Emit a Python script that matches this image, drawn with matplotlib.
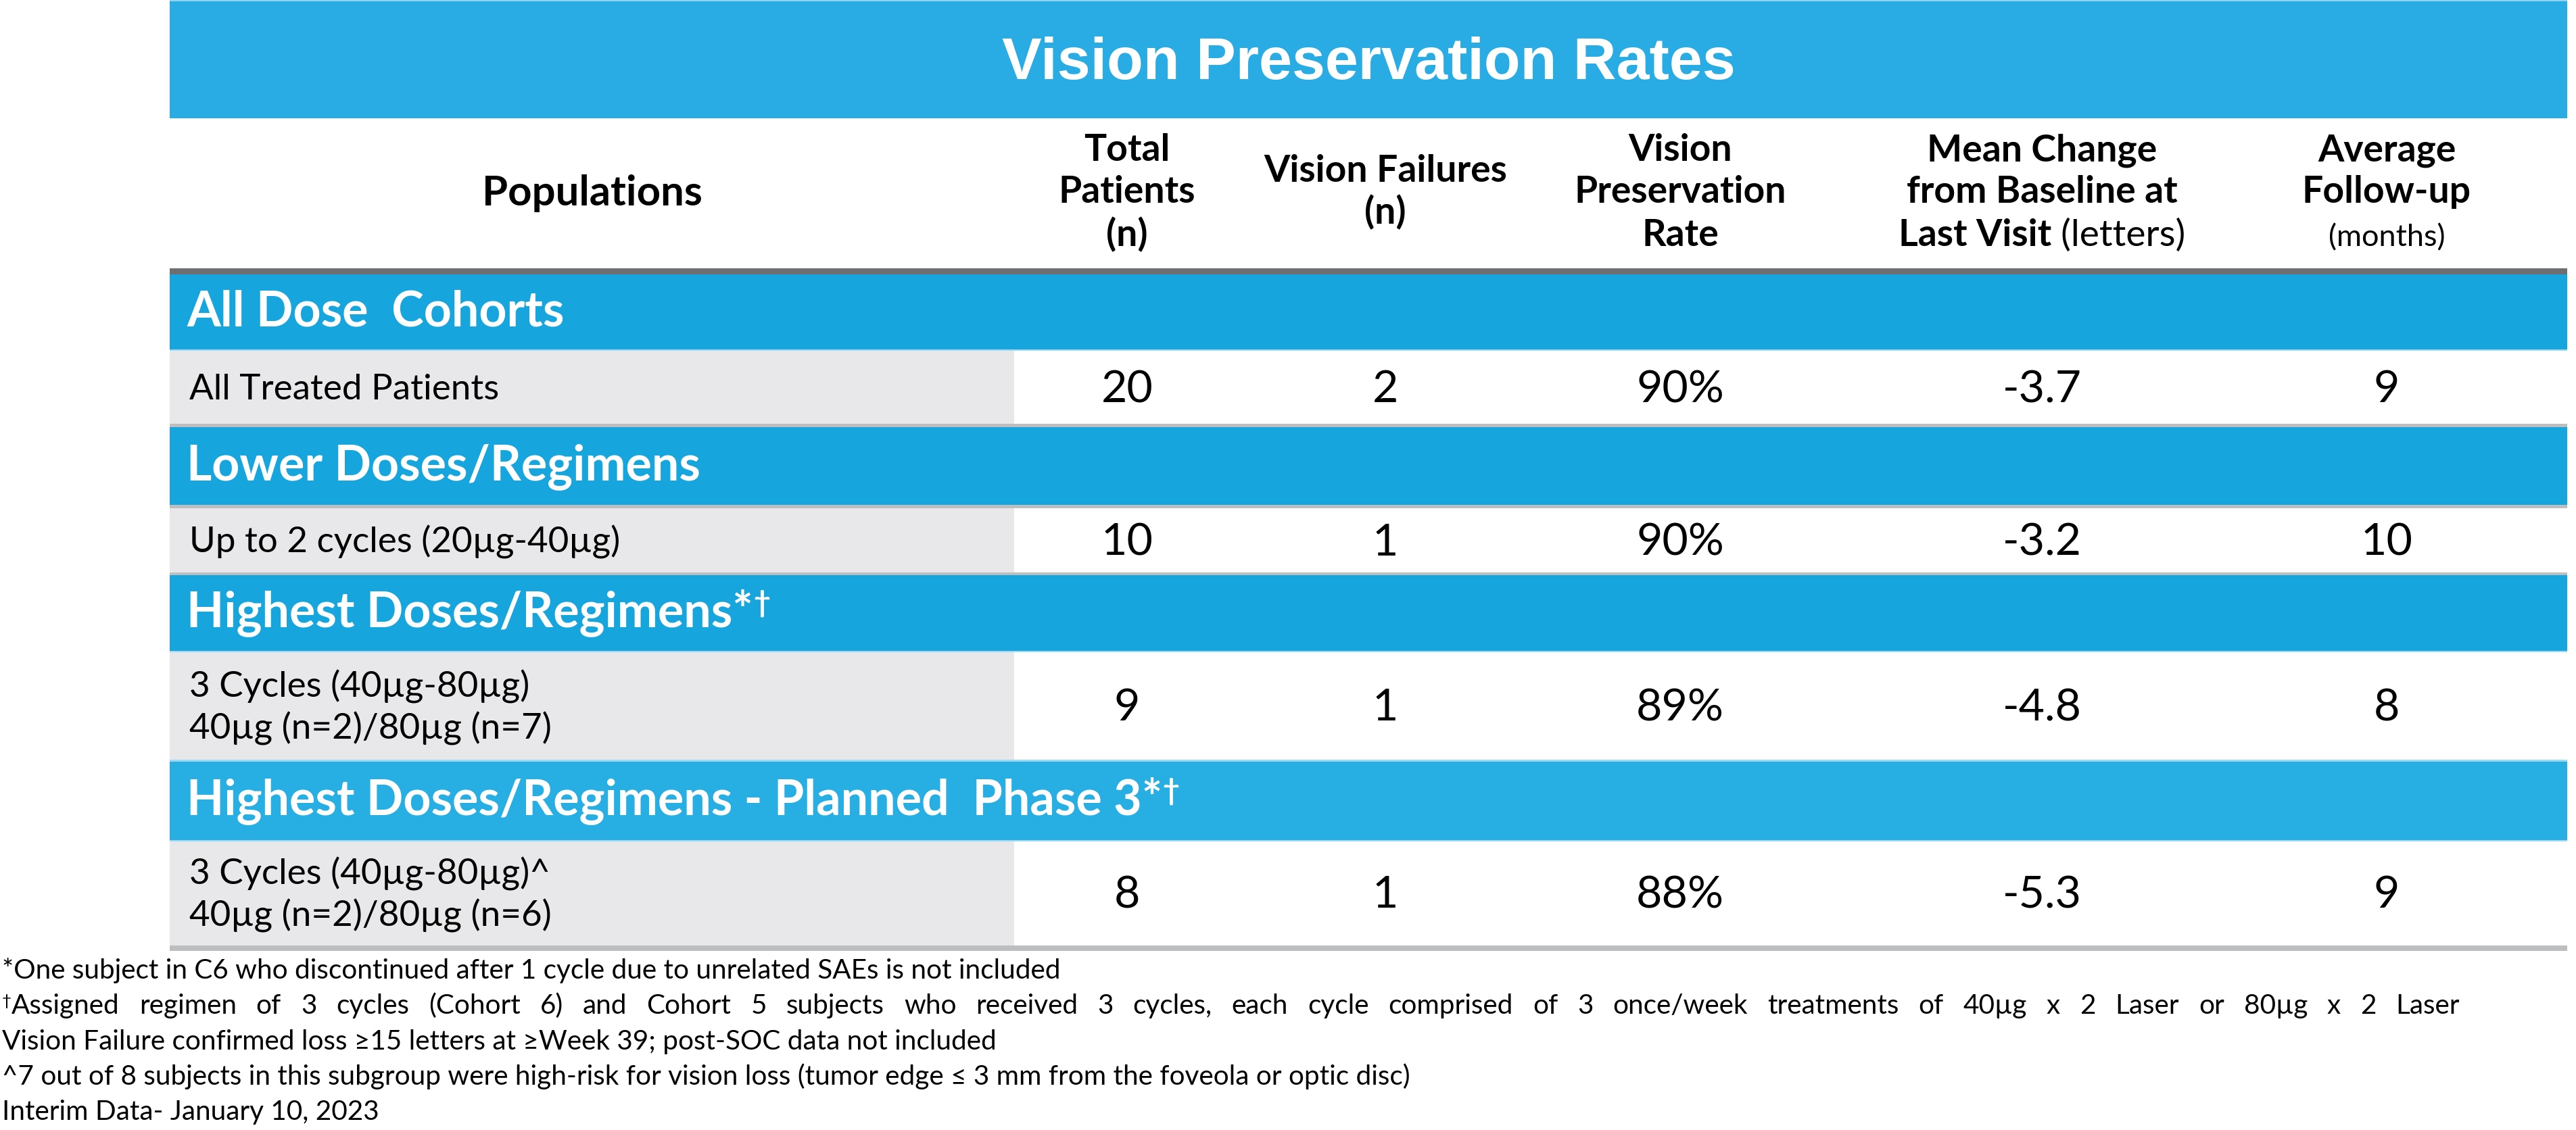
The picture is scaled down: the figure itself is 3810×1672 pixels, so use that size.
import matplotlib.pyplot as plt
from matplotlib.patches import Rectangle

# ---- chart content ----
title = "Vision Preservation Rates"
row_header = "Populations"
# each column header: lines, each line made of (text, style) pieces
header_lines = [
    [[("Total", "bold")], [("Patients", "bold")], [("(n)", "bold")]],
    [[("Vision Failures", "bold")], [("(n)", "bold")]],
    [[("Vision", "bold")], [("Preservation", "bold")], [("Rate", "bold")]],
    [[("Mean Change", "bold")], [("from Baseline at", "bold")],
     [("Last Visit", "bold"), (" (letters)", "normal")]],
    [[("Average", "bold")], [("Follow-up", "bold")], [("(months)", "small")]],
]
sections = ["All Dose  Cohorts", "Lower Doses/Regimens", "Highest Doses/Regimens*",
            "Highest Doses/Regimens - Planned  Phase 3*"]
section_marks = ["", "", "\u2020", "\u2020"]
populations = [
    ["All Treated Patients"],
    ["Up to 2 cycles (20\u00b5g-40\u00b5g)"],
    ["3 Cycles (40\u00b5g-80\u00b5g)", "40\u00b5g (n=2)/80\u00b5g (n=7)"],
    ["3 Cycles (40\u00b5g-80\u00b5g)^", "40\u00b5g (n=2)/80\u00b5g (n=6)"],
]
total_patients = [20, 10, 9, 8]
vision_failures = [2, 1, 1, 1]
preservation_rate = [90, 90, 89, 88]
mean_change = [-3.7, -3.2, -4.8, -5.3]
follow_up = [9, 10, 8, 9]
footnotes = [
    "*One subject in C6 who discontinued after 1 cycle due to unrelated SAEs is not included",
    "Assigned regimen of 3 cycles (Cohort 6) and Cohort 5 subjects who received 3 cycles, "
    "each cycle comprised of 3 once/week treatments of 40\u00b5g x 2 Laser or 80\u00b5g x 2 Laser",
    "Vision Failure confirmed loss \u226515 letters at \u2265Week 39; post-SOC data not included",
    "^7 out of 8 subjects in this subgroup were high-risk for vision loss "
    "(tumor edge \u2264 3 mm from the foveola or optic disc)",
    "Interim Data- January 10, 2023",
]
footnote_marks = ["", "\u2020", "", "", ""]
footnote_justified = [False, True, False, False, False]

# ---- layout (pixels of the 3810x1672 canvas) ----
W, H, DPI = 3810, 1672, 100
PT = 72 / DPI
K = 0.92  # Lato runs a bit wider than the original's Calibri
BODY = ["Lato", "DejaVu Sans"]
TITLE_FONT = ["Liberation Sans", "DejaVu Sans"]

LEFT, RIGHT, SPLIT = 251, 3797, 1500
COL_X = [1667, 2049, 2485, 3020, 3530]
BANDS = [(406, 517), (632, 747), (850, 963), (1126, 1243)]
ROWS = [(519, 627), (752, 847), (963, 1126), (1243, 1399)]
BAND_COLORS = ["#17A5DE", "#17A5DE", "#17A5DE", "#27AEE3"]
TITLE_BLUE = "#29ACE3"
CELL_GRAY = "#E8E8EA"
LINE_GRAY = "#BCBEC0"
NOTE_END = 3638  # right end of the justified footnote

TITLE_SIZE = 88 * PT
HEAD_SIZE = 60 * K * PT
POP_SIZE = 67 * K * PT
SMALL_SIZE = 49 * K * PT
SECTION_SIZE = 78 * K * PT
LABEL_SIZE = 57.5 * K * PT
VALUE_SIZE = 72 * K * PT
NOTE_SIZE = 44 * K * PT

fig = plt.figure(figsize=(W / DPI, H / DPI), dpi=DPI)
ax = fig.add_axes([0, 0, 1, 1])
ax.set_xlim(0, W)
ax.set_ylim(H, 0)
ax.axis("off")
renderer = fig.canvas.get_renderer()


def box(x0, y0, x1, y1, color):
    ax.add_patch(Rectangle((x0, y0), x1 - x0, y1 - y0, facecolor=color, edgecolor="none"))


def run_of_text(x, y, parts, ha="center", color="black"):
    # pieces on one baseline: (text, size, weight, rise); returns right end
    pieces = [ax.text(0, y - rise, s, fontsize=size, fontweight=weight, family=BODY,
                      color=color, ha="left", va="baseline")
              for s, size, weight, rise in parts]
    widths = [t.get_window_extent(renderer).width for t in pieces]
    start = x - sum(widths) / 2 if ha == "center" else x
    for t, w in zip(pieces, widths):
        t.set_x(start)
        start += w
    return start


# title bar
box(LEFT, 0, RIGHT, 175, TITLE_BLUE)
box(LEFT, 0, RIGHT, 2, "#8FD3F1")
ax.text((LEFT + RIGHT) / 2, 117, title, family=TITLE_FONT, fontweight="bold",
        fontsize=TITLE_SIZE, color="white", ha="center", va="baseline")

# column headers
ax.text((LEFT + SPLIT) / 2, 304, row_header, family=BODY, fontweight="bold",
        fontsize=POP_SIZE, ha="center", va="baseline")
styles = {"bold": (HEAD_SIZE, "bold"), "normal": (HEAD_SIZE, "normal"),
          "small": (SMALL_SIZE, "normal")}
baselines = {3: [238, 300, 364], 2: [269, 331]}
for cx, lines in zip(COL_X, header_lines):
    for by, line in zip(baselines[len(lines)], lines):
        run_of_text(cx, by, [(s, *styles[st], 0) for s, st in line])
box(LEFT, 397, RIGHT, 406, "#6D6E71")

# section bands and data rows
for i, (sec, mark) in enumerate(zip(sections, section_marks)):
    b0, b1 = BANDS[i]
    r0, r1 = ROWS[i]
    box(LEFT, b0, RIGHT, b1, BAND_COLORS[i])
    box(LEFT, r0, SPLIT, r1, CELL_GRAY)
    box(SPLIT, r0, RIGHT, r1, "white")
    box(LEFT, b1, RIGHT, r0 if r0 > b1 else b1 + 2, "#9ED8F2")
    parts = [(sec, SECTION_SIZE, "bold", 0)]
    if mark:
        parts.append((mark, SECTION_SIZE * 0.6, "bold", 22))
    run_of_text(276, (b0 + b1) / 2 + 21, parts, ha="left", color="white")

    mid = (r0 + r1) / 2
    label = populations[i]
    for j, line in enumerate(label):
        off = (j - (len(label) - 1) / 2) * 62
        ax.text(280, mid + off + 18, line, family=BODY, fontsize=LABEL_SIZE,
                ha="left", va="baseline")
    values = [str(total_patients[i]), str(vision_failures[i]), f"{preservation_rate[i]}%",
              f"{mean_change[i]:.1f}", str(follow_up[i])]
    for cx, v in zip(COL_X, values):
        ax.text(cx, mid + 22, v, family=BODY, fontsize=VALUE_SIZE, ha="center", va="baseline")

# separators
for y0, y1 in [(627, 632), (747, 752), (847, 851), (1399, 1407)]:
    box(LEFT, y0, RIGHT, y1, LINE_GRAY)
box(LEFT, 1124, RIGHT, 1127, "#9ED8F2")

# footnotes
for k, (note, mark, justify) in enumerate(zip(footnotes, footnote_marks, footnote_justified)):
    y = 1448 + k * 52.3
    x = 3
    if mark:
        x = run_of_text(x, y, [(mark, NOTE_SIZE * 0.6, "normal", 12)], ha="left")
    if not justify:
        run_of_text(x, y, [(note, NOTE_SIZE, "normal", 0)], ha="left")
        continue
    # spread the words so the line runs out to NOTE_END, as in the original
    words = [ax.text(0, y, w, family=BODY, fontsize=NOTE_SIZE, ha="left", va="baseline")
             for w in note.split()]
    widths = [t.get_window_extent(renderer).width for t in words]
    gap = (NOTE_END - x - sum(widths)) / (len(words) - 1)
    for t, w in zip(words, widths):
        t.set_x(x)
        x += w + gap

fig.savefig("out.png", dpi=DPI)
